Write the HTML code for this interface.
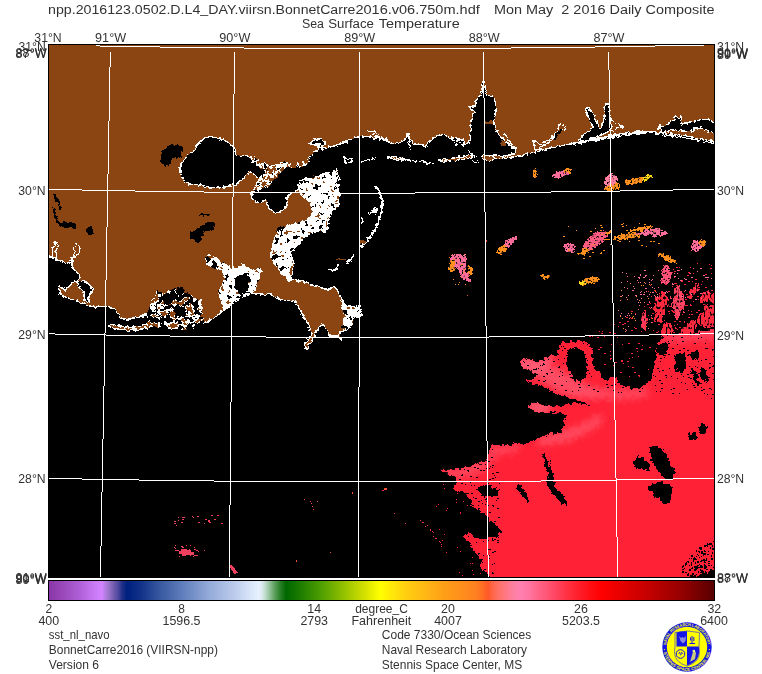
<!DOCTYPE html>
<html><head><meta charset="utf-8"><title>SST</title>
<style>html,body{margin:0;padding:0;background:#fff;}body{width:762px;height:674px;overflow:hidden;position:relative;font-family:"Liberation Sans",sans-serif;}</style></head>
<body>
<svg width="762" height="674" viewBox="0 0 762 674" style="position:absolute;left:0;top:0;display:block">
<defs>
<clipPath id="mapclip"><rect x="49" y="45" width="665" height="532"/></clipPath>
<linearGradient id="cb" gradientUnits="userSpaceOnUse" x1="49" y1="0" x2="714" y2="0">
<stop offset="0.0000" stop-color="#8A36A8"/>
<stop offset="0.0195" stop-color="#9848B8"/>
<stop offset="0.0466" stop-color="#B060D8"/>
<stop offset="0.0707" stop-color="#CC7CF8"/>
<stop offset="0.0797" stop-color="#D484FF"/>
<stop offset="0.0827" stop-color="#C080EC"/>
<stop offset="0.0887" stop-color="#A078D0"/>
<stop offset="0.0962" stop-color="#7860B0"/>
<stop offset="0.1038" stop-color="#5048A0"/>
<stop offset="0.1098" stop-color="#203088"/>
<stop offset="0.1173" stop-color="#002080"/>
<stop offset="0.1368" stop-color="#103088"/>
<stop offset="0.1669" stop-color="#3858A0"/>
<stop offset="0.2045" stop-color="#6482BE"/>
<stop offset="0.2421" stop-color="#96ACDA"/>
<stop offset="0.2797" stop-color="#BCCCEC"/>
<stop offset="0.3053" stop-color="#DCE8FA"/>
<stop offset="0.3158" stop-color="#E8F2FF"/>
<stop offset="0.3218" stop-color="#D4E6E4"/>
<stop offset="0.3293" stop-color="#A4CCAC"/>
<stop offset="0.3383" stop-color="#64A464"/>
<stop offset="0.3474" stop-color="#2C8028"/>
<stop offset="0.3564" stop-color="#006800"/>
<stop offset="0.3699" stop-color="#107400"/>
<stop offset="0.3925" stop-color="#348C00"/>
<stop offset="0.4105" stop-color="#50A000"/>
<stop offset="0.4316" stop-color="#7CB400"/>
<stop offset="0.4496" stop-color="#A0C800"/>
<stop offset="0.4647" stop-color="#C0D600"/>
<stop offset="0.4767" stop-color="#D8E200"/>
<stop offset="0.4887" stop-color="#F0F400"/>
<stop offset="0.4977" stop-color="#FFFF00"/>
<stop offset="0.5158" stop-color="#FFE808"/>
<stop offset="0.5353" stop-color="#FFD010"/>
<stop offset="0.5654" stop-color="#FFB814"/>
<stop offset="0.5925" stop-color="#FFA018"/>
<stop offset="0.6180" stop-color="#FF901C"/>
<stop offset="0.6421" stop-color="#FF8020"/>
<stop offset="0.6526" stop-color="#FF6C24"/>
<stop offset="0.6602" stop-color="#FF5828"/>
<stop offset="0.6662" stop-color="#FF6444"/>
<stop offset="0.6737" stop-color="#FF7060"/>
<stop offset="0.6872" stop-color="#FF7884"/>
<stop offset="0.6992" stop-color="#FF80A4"/>
<stop offset="0.7098" stop-color="#FF80B0"/>
<stop offset="0.7233" stop-color="#FF74A0"/>
<stop offset="0.7353" stop-color="#FF6488"/>
<stop offset="0.7474" stop-color="#FF5878"/>
<stop offset="0.7624" stop-color="#FF4460"/>
<stop offset="0.7805" stop-color="#FF3040"/>
<stop offset="0.7985" stop-color="#FF1C28"/>
<stop offset="0.8165" stop-color="#FF0C10"/>
<stop offset="0.8316" stop-color="#FF0000"/>
<stop offset="0.8511" stop-color="#EE0000"/>
<stop offset="0.8737" stop-color="#DA0000"/>
<stop offset="0.8977" stop-color="#C80000"/>
<stop offset="0.9218" stop-color="#B00000"/>
<stop offset="0.9489" stop-color="#980000"/>
<stop offset="0.9744" stop-color="#780000"/>
<stop offset="1.0000" stop-color="#580000"/>
</linearGradient>
</defs>
<rect width="762" height="674" fill="#fff"/>
<rect x="48" y="44" width="667" height="534" fill="#000"/>
<g clip-path="url(#mapclip)" shape-rendering="crispEdges">
<rect x="49" y="45" width="665" height="532" fill="#8B4513"/>
<filter id="rag2" color-interpolation-filters="sRGB" filterUnits="userSpaceOnUse" x="30" y="30" width="710" height="580"><feTurbulence type="fractalNoise" baseFrequency="0.3" numOctaves="2" seed="9" result="n"/><feDisplacementMap in="SourceGraphic" in2="n" scale="4.5" xChannelSelector="R" yChannelSelector="G"/></filter>
<g filter="url(#rag2)">
<rect x="30" y="30" width="710" height="580" fill="#8B4513"/>
<path d="M720 143 L714 141.7 L702 139 L690 136.7 L680 135 L670 133.8 L660 132.5 L650 131.8 L636 131.8 L626 133 L616 134.7 L606 136.7 L596 138.7 L586 140.7 L576 142.7 L566 144.7 L556 146.7 L546 149 L536 151.7 L526 154.2 L516 156.7 L506 158 L496 158.7 L484 160 L484 157.5 L489 157.5 L493.6 154.8 L502.5 156 L511.4 154.6 L515.8 150.9 L510 145.7 L504 139.7 L499.5 135.3 L495.5 129.3 L493.5 120.4 L496 111.5 L495.5 104 L494.6 98 L492 96 L486.5 95.3 L485 88 L484.5 80.5 L482.5 80.5 L482.5 88 L481.5 95 L479.3 96 L477 99.7 L475.3 106 L469 106.4 L474.3 111.5 L472 119 L470.6 129.3 L470.6 139.7 L468 143.5 L464 144.7 L463 140.5 L462 139.7 L456 138.7 L450 137.7 L446 135.5 L442 134.3 L438 135.5 L434 137.7 L430 141.7 L427 145 L424 146.7 L420 143.7 L414 144.7 L412 142 L410 139.7 L408 133.7 L406 138.7 L403 141 L400 142.7 L392 143.7 L388 141.5 L384 139.7 L374 137.7 L364 136.3 L358 137 L352 138.7 L346 142 L334 146 L328 147.5 L322 149 L322 145 L326 143 L320 139 L314 140 L309 144 L319 144 L319 148 L314 154 L307 158 L305 162 L304 165 L296 165 L290 164 L284 163 L276 166 L270 167 L266 167 L266 171 L262 176 L258 182 L254 189.8 L252 193.8 L251 198 L254 200 L257 203 L259 203.8 L263 201 L266 200 L267 203 L270 209.8 L274 212 L278 212.8 L283 211 L286 207.8 L287 197.8 L290 194 L294 191.8 L298 190 L306 184 L316 180 L324 175 L330 172 L337 170 L339 178 L338 186 L339 196 L338 206 L334 210 L330 214 L328 224 L326 232 L320 231 L316 230 L312 230 L308 232 L304 234 L300 240 L296 246 L291 250 L288 254 L294 262 L293 268 L292 274 L288 278 L296 280 L304 282 L316 286 L328 290 L335 287 L338 291 L340 296 L345 304 L352 307 L360 306 L361 316 L354 316 L352 326 L346 330 L340 332 L341 340 L338 336 L329 336 L328 330 L322 324 L316 332 L314 338 L306 349 L305 344 L312 334 L308 324 L302 314 L299 308 L295.7 302 L281.8 300 L271.8 295 L262 294 L251.8 293 L246 295 L241.9 297 L236 300.5 L231.9 304 L221.9 312 L212 319 L202 324 L192 327 L186 328.5 L180 329 L172 328 L164 324 L158 324 L152 326 L146 328 L140 329.5 L128 330.5 L118 329 L108 326 L110 324.5 L120 326 L128 327.5 L138 326.5 L146 324.5 L150 321 L147 314 L141 317 L133 318 L124.4 320 L118.4 315 L114 308 L105 306 L96 307.4 L90 306 L82 303 L74 300 L67 297.5 L60 295 L59 286 L62 288 L66 290 L69 286.5 L72 283 L78 281 L80 276 L76 272 L72 266 L72 258 L68 264 L60 261 L54 258.5 L49 256 L40 256 L40 600 L730 600 Z" fill="#000" stroke="#fff" stroke-width="1.4" stroke-linejoin="round"/>
<path d="M180 168 L182 162 L190 154 L194 150 L200 142 L208 136.4 L216 137.6 L226 141 L234 147 L236 155 L248 156 L252 160 L260 162 L265 167 L266 172 L260 178 L254 176 L251 171 L248 173 L242 180 L234 185 L226 187 L210 188 L200 185 L188 184 L182 178 L180 172 Z" fill="#000" stroke="#fff" stroke-width="1.3" stroke-linejoin="round"/>
<path d="M162 152 L166 147 L170 145 L180 145 L183 150 L181 157 L172 158 L170 166 L164 166 L161 162 Z" fill="#000"/>
<path d="M190 235 L198 228 L206 223 L212 221 L215 225 L214 230 L204 232 L201 240 L197 242 L191 238 Z" fill="#000"/>
<path d="M199 215h12v1h-12z M201 213h2v2h-2z" fill="#000"/>
<path d="M53 192 L56 196 L60 202 L61 210 L59 210 L58 204 L54 197 Z" fill="#000"/>
<path d="M52 206 L55 210 L58 220 L62 222 L70 222 L76 224 L76 229 L70 228 L62 227 L57 224 L54 215 Z" fill="#000"/>
<path d="M85.5 231 L90 226 L92.5 226 L92.5 235 L89 235 Z" fill="#000"/>
<path d="M189.6 232 h3 v6 h-3z" fill="#000"/>
<path d="M78 282 L84 281 L90 286 L94 291 L89 294 L89 302 L84 300 L84 292 L79 287 Z" fill="#000" stroke="#fff" stroke-width="1.3" stroke-linejoin="round"/>
<path d="M52 258 L53 247 L56 242 L58 246 L56 252 L57 258 Z M74 254 L75 246 L77 243 L80 248 L79 253 L75 258 Z" fill="#8B4513" stroke="#fff" stroke-width="1.3" stroke-linejoin="round"/>
<path d="M578 141 L580 138 L586 133 L592 129 L593 126 L590 121 L587 114 L585 110 L586 108 L589 108 L592 112 L595 118 L598 126 L600 128 L603 123 L605 116 L604 108 L605 104 L608 104 L610 110 L610 120 L612 127 L609 131 L604 134 L598 136 L590 139 L584 142 Z" fill="#000" stroke="#fff" stroke-width="1.3" stroke-linejoin="round"/>
<path d="M610 120 L617 124 L624 127 L618 128 L612 131" fill="none" stroke="#fff" stroke-width="1.3" stroke-linejoin="round"/>
<path d="M660 128 L664 126 L668 124 L672 121 L674 120 L675 115 L678 119 L681 116 L682 124 L690 122 L700 120 L708 119 L714 123 L720 124 L720 134 L714 133 L706 130 L702 128 L694 128 L692 132 L682 131 L672 130 L666 132 L662 133 Z" fill="#000" stroke="#fff" stroke-width="1.3" stroke-linejoin="round"/>
<path d="M658 130 L660 124 L662 128" fill="none" stroke="#fff" stroke-width="1.3" stroke-linejoin="round"/>
<path d="M533 141 L534 147 L538 150 L543 146 L548 143 L552 140 L556 134 L560 131 L565 129 L566 126 L562 125 L557 126 L559 129 L555 133 L552 138 L548 141 L543 143 L539 144 L536 141 Z" fill="#8B4513" stroke="#fff" stroke-width="1.3" stroke-linejoin="round"/>
<path d="M553 139 L556 133 L560 129 L563 128 L561 132 L557 137 L555 141 Z" fill="#000"/>
<path d="M572 144.5 L586 142 L600 139.5 L616 136.5 L632 133.8 L648 132.5 L660 133" fill="none" stroke="#fff" stroke-width="1.5"/>
<path d="M600 141 L616 138 L632 135.5 L648 134.2" fill="none" stroke="#000" stroke-width="1"/>
<path d="M662 135 L680 137 L700 140.5 L716 144" fill="none" stroke="#fff" stroke-width="1"/>
<path d="M501 140 h5 v6 h-5z" fill="#8B4513"/>
<path d="M504 133 L508 140 L516 150 L510 157" fill="none" stroke="#fff" stroke-width="1.3" stroke-linejoin="round"/>
<path d="M485 121 h8 v3 h-8z" fill="#8B4513"/>
<path d="M367.5 131 L372 130.5 L376 132.5 L379 135.5 L383 138 L387.5 139.5 M371 133.5 L375 135.5 L379 138.5" fill="none" stroke="#fff" stroke-width="1.3" stroke-linejoin="round"/>
<path d="M408.5 134 L409 141 L410.5 147 L412 150 M452 139 L455 142 L458 140 L461 144 L464 146 M455 146 L458 143" fill="none" stroke="#fff" stroke-width="1.3" stroke-linejoin="round"/>
<path d="M344 158 L348 159 L352 158 L351 162 L346 163 Z M361 162 L366 161 L370 160 M372 159 L376 158 M387 157 L392 158 L400 159 L408 160 L416 161 M420 161 L426 163 L434 163.5 M468 152 L472 154 L476 157 M472 161 L479 163" fill="none" stroke="#fff" stroke-width="1.5"/>
<path d="M438 160 L446 159 L456 157.5 L466 156 L472 155 L472 157 L462 159.5 L450 161 L440 161.5 Z" fill="#8B4513" stroke="#fff" stroke-width="1.3" stroke-linejoin="round"/>
<path d="M388 157 L394 156.5 L402 158 L402 160 L394 159 Z" fill="#8B4513" stroke="#fff" stroke-width="1.3" stroke-linejoin="round"/>
<path d="M482 155 L490 156 L496 158 L490 161 L484 160 Z" fill="#8B4513" stroke="#fff" stroke-width="1.3" stroke-linejoin="round"/>
<path d="M375 186 L379 191 L381.5 198 L382 206 L381 213 L379 220 L376 227 L373 233 L369 238 L365 243 L360 247.5" fill="none" stroke="#fff" stroke-width="2"/>
<path d="M368 214 L373 209 L377 208 L377 215 L372 213 Z M361 217 h2 v7 h-2z" fill="#fff"/>
<path d="M346 262.5 L350 258.5 L354 255 L354.5 256.5 L351 260.5 L347.5 263.5 Z M360 247 L364 243 L368 240 L367 243.5 L362 247.5 Z" fill="#fff"/>
<path d="M336 259 h10 v1 h-10z M360 241 h5 v3 h-5z M359 240 h4 v2 h-4z" fill="#8B4513"/>
<path d="M328 269.5 L332 271 L336 269.5 L338.5 265" fill="none" stroke="#fff" stroke-width="1.6"/>
<filter id="marshA" filterUnits="userSpaceOnUse" x="49" y="45" width="665" height="532" color-interpolation-filters="sRGB"><feTurbulence type="fractalNoise" baseFrequency="0.2" numOctaves="2" seed="5" result="n"/><feColorMatrix in="n" type="matrix" values="1 0 0 0 0  1 0 0 0 0  1 0 0 0 0  0 0 0 0 1" result="g"/><feComponentTransfer in="g" result="c"><feFuncR type="discrete" tableValues="0.545 0.545 0.545 0.545 0.545 0.545 0.545 0.545 0.545 0.545 0.545 0.545 0.545 0.545 0.545 0.545 0.545 0.545 0.545 0.545 0.545 0.545 0.545 0.545 1.000 1.000 1.000 1.000 1.000 1.000 1.000 1.000 1.000 1.000 1.000 1.000 1.000 1.000 1.000 1.000 1.000 1.000 1.000 1.000 1.000 1.000 1.000 1.000 1.000 1.000 1.000 1.000 0.000 0.000 0.000 0.000 0.000 0.000 0.000 0.000 0.000 0.000 0.000 0.000 0.000 0.000 0.000 0.000 0.000 0.000 0.000 0.000 0.000 0.000 0.000 0.000 0.000 0.000 0.000 0.000"/><feFuncG type="discrete" tableValues="0.271 0.271 0.271 0.271 0.271 0.271 0.271 0.271 0.271 0.271 0.271 0.271 0.271 0.271 0.271 0.271 0.271 0.271 0.271 0.271 0.271 0.271 0.271 0.271 1.000 1.000 1.000 1.000 1.000 1.000 1.000 1.000 1.000 1.000 1.000 1.000 1.000 1.000 1.000 1.000 1.000 1.000 1.000 1.000 1.000 1.000 1.000 1.000 1.000 1.000 1.000 1.000 0.000 0.000 0.000 0.000 0.000 0.000 0.000 0.000 0.000 0.000 0.000 0.000 0.000 0.000 0.000 0.000 0.000 0.000 0.000 0.000 0.000 0.000 0.000 0.000 0.000 0.000 0.000 0.000"/><feFuncB type="discrete" tableValues="0.075 0.075 0.075 0.075 0.075 0.075 0.075 0.075 0.075 0.075 0.075 0.075 0.075 0.075 0.075 0.075 0.075 0.075 0.075 0.075 0.075 0.075 0.075 0.075 1.000 1.000 1.000 1.000 1.000 1.000 1.000 1.000 1.000 1.000 1.000 1.000 1.000 1.000 1.000 1.000 1.000 1.000 1.000 1.000 1.000 1.000 1.000 1.000 1.000 1.000 1.000 1.000 0.000 0.000 0.000 0.000 0.000 0.000 0.000 0.000 0.000 0.000 0.000 0.000 0.000 0.000 0.000 0.000 0.000 0.000 0.000 0.000 0.000 0.000 0.000 0.000 0.000 0.000 0.000 0.000"/></feComponentTransfer><feComposite in="c" in2="SourceGraphic" operator="in"/></filter>
<filter id="marshC" filterUnits="userSpaceOnUse" x="49" y="45" width="665" height="532" color-interpolation-filters="sRGB"><feTurbulence type="fractalNoise" baseFrequency="0.22" numOctaves="2" seed="17" result="n"/><feColorMatrix in="n" type="matrix" values="1 0 0 0 0  1 0 0 0 0  1 0 0 0 0  0 0 0 0 1" result="g"/><feComponentTransfer in="g" result="c"><feFuncR type="discrete" tableValues="0.545 0.545 0.545 0.545 0.545 0.545 0.545 0.545 0.545 0.545 0.545 0.545 0.545 0.545 0.545 0.545 0.545 0.545 0.545 0.545 0.545 0.545 0.545 0.545 0.545 0.545 0.545 0.545 0.545 0.545 0.545 0.545 0.545 0.545 0.545 0.545 0.545 0.545 0.545 0.545 1.000 1.000 1.000 1.000 1.000 1.000 1.000 1.000 1.000 1.000 1.000 1.000 1.000 1.000 0.000 0.000 0.000 0.000 0.000 0.000 0.000 0.000 0.000 0.000 0.000 0.000 0.000 0.000 0.000 0.000 0.000 0.000 0.000 0.000 0.000 0.000 0.000 0.000 0.000 0.000"/><feFuncG type="discrete" tableValues="0.271 0.271 0.271 0.271 0.271 0.271 0.271 0.271 0.271 0.271 0.271 0.271 0.271 0.271 0.271 0.271 0.271 0.271 0.271 0.271 0.271 0.271 0.271 0.271 0.271 0.271 0.271 0.271 0.271 0.271 0.271 0.271 0.271 0.271 0.271 0.271 0.271 0.271 0.271 0.271 1.000 1.000 1.000 1.000 1.000 1.000 1.000 1.000 1.000 1.000 1.000 1.000 1.000 1.000 0.000 0.000 0.000 0.000 0.000 0.000 0.000 0.000 0.000 0.000 0.000 0.000 0.000 0.000 0.000 0.000 0.000 0.000 0.000 0.000 0.000 0.000 0.000 0.000 0.000 0.000"/><feFuncB type="discrete" tableValues="0.075 0.075 0.075 0.075 0.075 0.075 0.075 0.075 0.075 0.075 0.075 0.075 0.075 0.075 0.075 0.075 0.075 0.075 0.075 0.075 0.075 0.075 0.075 0.075 0.075 0.075 0.075 0.075 0.075 0.075 0.075 0.075 0.075 0.075 0.075 0.075 0.075 0.075 0.075 0.075 1.000 1.000 1.000 1.000 1.000 1.000 1.000 1.000 1.000 1.000 1.000 1.000 1.000 1.000 0.000 0.000 0.000 0.000 0.000 0.000 0.000 0.000 0.000 0.000 0.000 0.000 0.000 0.000 0.000 0.000 0.000 0.000 0.000 0.000 0.000 0.000 0.000 0.000 0.000 0.000"/></feComponentTransfer><feComposite in="c" in2="SourceGraphic" operator="in"/></filter>
<filter id="marshB" filterUnits="userSpaceOnUse" x="49" y="45" width="665" height="532" color-interpolation-filters="sRGB"><feTurbulence type="fractalNoise" baseFrequency="0.17" numOctaves="2" seed="11" result="n"/><feColorMatrix in="n" type="matrix" values="1 0 0 0 0  1 0 0 0 0  1 0 0 0 0  0 0 0 0 1" result="g"/><feComponentTransfer in="g" result="c"><feFuncR type="discrete" tableValues="0.545 0.545 0.545 0.545 0.545 0.545 0.545 0.545 0.545 0.545 0.545 0.545 0.545 0.545 0.545 0.545 0.545 0.545 0.545 0.545 0.545 0.545 0.545 0.545 0.545 0.545 0.545 0.545 0.545 0.545 0.545 1.000 1.000 1.000 1.000 1.000 1.000 1.000 1.000 1.000 1.000 1.000 0.000 0.000 0.000 0.000 0.000 0.000 0.000 0.000 0.000 0.000 0.000 0.000 0.000 0.000 0.000 0.000 0.000 0.000 0.000 0.000 0.000 0.000 0.000 0.000 0.000 0.000 0.000 0.000 0.000 0.000 0.000 0.000 0.000 0.000 0.000 0.000 0.000 0.000"/><feFuncG type="discrete" tableValues="0.271 0.271 0.271 0.271 0.271 0.271 0.271 0.271 0.271 0.271 0.271 0.271 0.271 0.271 0.271 0.271 0.271 0.271 0.271 0.271 0.271 0.271 0.271 0.271 0.271 0.271 0.271 0.271 0.271 0.271 0.271 1.000 1.000 1.000 1.000 1.000 1.000 1.000 1.000 1.000 1.000 1.000 0.000 0.000 0.000 0.000 0.000 0.000 0.000 0.000 0.000 0.000 0.000 0.000 0.000 0.000 0.000 0.000 0.000 0.000 0.000 0.000 0.000 0.000 0.000 0.000 0.000 0.000 0.000 0.000 0.000 0.000 0.000 0.000 0.000 0.000 0.000 0.000 0.000 0.000"/><feFuncB type="discrete" tableValues="0.075 0.075 0.075 0.075 0.075 0.075 0.075 0.075 0.075 0.075 0.075 0.075 0.075 0.075 0.075 0.075 0.075 0.075 0.075 0.075 0.075 0.075 0.075 0.075 0.075 0.075 0.075 0.075 0.075 0.075 0.075 1.000 1.000 1.000 1.000 1.000 1.000 1.000 1.000 1.000 1.000 1.000 0.000 0.000 0.000 0.000 0.000 0.000 0.000 0.000 0.000 0.000 0.000 0.000 0.000 0.000 0.000 0.000 0.000 0.000 0.000 0.000 0.000 0.000 0.000 0.000 0.000 0.000 0.000 0.000 0.000 0.000 0.000 0.000 0.000 0.000 0.000 0.000 0.000 0.000"/></feComponentTransfer><feComposite in="c" in2="SourceGraphic" operator="in"/></filter>
<g filter="url(#marshA)"><path d="M297 181 L306 178 L316 176 L326 172 L337 170 L339 178 L338 190 L339 200 L338 208 L332 212 L327 218 L326 231 L318 232 L312 233 L306 237 L300 243 L296 247 L292 253 L293 260 L291 268 L289 273 L293 278 L293 282 L287 280 L281 273 L277 268 L272 261 L270 256 L271 248 L273 241 L276 233 L279 228 L286 225.5 L293 224 L300 222 L306 220 L311 215 L312 212 L310 204 L305 199 L300 195 L298 188 Z M204.5 260 L208 254 L216 257.5 L226 265 L236 267.5 L243 264 L250.6 270 L260.6 267.5 L262 272 L258 282 L255.6 290 L250 294 L244 297 L238 300 L231 305 L224 309 L220.7 302 L218 290 L225.7 277.4 L220.7 270 L213 267.4 L206 264 Z M340 300 L346 304 L352 307 L360 306 L362 312 L360 318 L354 318 L352 326 L346 331 L342 326 L344 316 L342 308 Z M190 326 L194 318 L196 308 L198 300 L202 300 L202 312 L200 322 L194 328 Z" fill="#fff"/></g>
<g filter="url(#marshC)"><path d="M254 189 L257 184 L261 179 L266 172 L272 167 L280 164 L288 164 L284 170 L279 176 L273 181 L269 187 L262 188 L257 192 Z M250 156 L256 158 L262 161 L268 165 L276 164 L284 161 L292 163 L300 163 L306 157 L310 158 L306 166 L296 168 L284 167 L276 170 L266 170 L258 166 L250 160 Z" fill="#fff"/></g>
<g filter="url(#marshB)"><path d="M147 314 L151.4 301.4 L157.3 291 L164.8 294 L175.3 286.5 L179.8 291 L188.8 294 L199 300 L200.7 313.4 L204 322 L202 326 L192 329 L183 330 L171 329 L160 327 L150 326 L150 321 Z" fill="#fff"/></g>
<path d="M234 280 L238 275 L246 274 L250 278 L249 286 L246 292 L240 294 L236 290 Z" fill="#000"/>
<path d="M163 300 L168 296 L174 298 L172 304 L166 305 Z M176 290 L181 287 L185 291 L181 296 L177 295 Z M174 310 L180 306 L186 309 L184 316 L177 316 Z M205 258 L208 256 L211 259 L208 262 Z M214 262 L218 266 L216 270 L212 268 Z" fill="#000"/>
<path d="M277 229 a2 2 0 1 0 4 0 a2 2 0 1 0 -4 0" fill="#000"/>
</g>
<clipPath id="redclip"><path d="M518 362.3 L522 360 L526.5 358.4 L532 360 L537 361.4 L542 359.5 L547.4 357 L553 356 L557.9 355.4 L558.5 350 L559.4 345 L563 343 L566.9 342 L571 341 L574.3 340.5 L580.3 341 L586 341.5 L590 344 L592 352 L591.5 362 L595 369 L602 372 L609 374 L614 378 L620 384 L626 387 L632 388 L638 388 L644 386 L649 382 L652 376 L654 368 L656 358 L658 348 L660 340 L664 336 L672 335 L684 334 L696 332 L706 330 L714 329 L720 329 L720 590 L489 590 L489 577 L486 572 L479 567 L482 561 L478 556 L475 552 L472 547 L469 543 L463 536 L467 533 L471 531 L473 535 L475 538 L486 538 L493 537.5 L498 536 L501 531 L496 526 L491 522 L486 515 L480 512 L475 509 L472 504 L470 499 L466 495 L463 493 L452 489 L455 486 L458 482 L454 475 L447 473 L438 468.6 L447 471 L456.6 469.2 L466 467 L475 464.5 L481 462 L486 460 L487.4 453.7 L489 449 L491 445.7 L501 445 L511 444.6 L519 444 L527 443.4 L532 441 L536.6 439 L548 434.3 L553 433.5 L558 432 L562 430 L564 423 L566 418 L567 414 L555 413 L545 412.3 L537 411.5 L529.4 408.5 L528 404.8 L534 402.6 L541 404.5 L547.4 406 L555 405.5 L562.4 404.8 L570 404 L577.3 403.3 L589.3 404.8 L581.8 401.8 L569.8 398 L562 395.5 L554.9 392.8 L547 389 L540 385.4 L533 383.5 L527 381.5 L532 378.5 L537.5 375.5 L531 372 L525 369 Z"/></clipPath>
<filter id="blur3" x="-20%" y="-20%" width="140%" height="140%"><feGaussianBlur stdDeviation="3.5"/></filter>
<filter id="rag" color-interpolation-filters="sRGB" x="-5%" y="-5%" width="110%" height="110%"><feTurbulence type="fractalNoise" baseFrequency="0.22" numOctaves="2" seed="4" result="n"/><feDisplacementMap in="SourceGraphic" in2="n" scale="7" xChannelSelector="R" yChannelSelector="G"/></filter>
<g filter="url(#rag)">
<path d="M518 362.3 L522 360 L526.5 358.4 L532 360 L537 361.4 L542 359.5 L547.4 357 L553 356 L557.9 355.4 L558.5 350 L559.4 345 L563 343 L566.9 342 L571 341 L574.3 340.5 L580.3 341 L586 341.5 L590 344 L592 352 L591.5 362 L595 369 L602 372 L609 374 L614 378 L620 384 L626 387 L632 388 L638 388 L644 386 L649 382 L652 376 L654 368 L656 358 L658 348 L660 340 L664 336 L672 335 L684 334 L696 332 L706 330 L714 329 L720 329 L720 590 L489 590 L489 577 L486 572 L479 567 L482 561 L478 556 L475 552 L472 547 L469 543 L463 536 L467 533 L471 531 L473 535 L475 538 L486 538 L493 537.5 L498 536 L501 531 L496 526 L491 522 L486 515 L480 512 L475 509 L472 504 L470 499 L466 495 L463 493 L452 489 L455 486 L458 482 L454 475 L447 473 L438 468.6 L447 471 L456.6 469.2 L466 467 L475 464.5 L481 462 L486 460 L487.4 453.7 L489 449 L491 445.7 L501 445 L511 444.6 L519 444 L527 443.4 L532 441 L536.6 439 L548 434.3 L553 433.5 L558 432 L562 430 L564 423 L566 418 L567 414 L555 413 L545 412.3 L537 411.5 L529.4 408.5 L528 404.8 L534 402.6 L541 404.5 L547.4 406 L555 405.5 L562.4 404.8 L570 404 L577.3 403.3 L589.3 404.8 L581.8 401.8 L569.8 398 L562 395.5 L554.9 392.8 L547 389 L540 385.4 L533 383.5 L527 381.5 L532 378.5 L537.5 375.5 L531 372 L525 369 Z" fill="#FF2236"/>
<g clip-path="url(#redclip)" opacity="0.62"><g filter="url(#blur3)">
<path d="M512 362 L526 356 L540 358 L552 354 L552 364 L544 372 L536 378 L526 374 Z" fill="#FF7C98"/>
<path d="M522 405 L534 401 L550 403 L552 410 L540 414 L528 411 Z" fill="#FF7C98"/>
<path d="M540 372 L556 366 L572 376 L590 386 L604 390 L622 391 L646 388 L648 396 L620 399 L600 398 L584 399 L570 396 L552 388 L540 380 Z" fill="#FF6880"/>
<path d="M540 436 L558 431 L572 428 L590 420 L600 414 L604 422 L588 432 L572 440 L556 444 L536 446 Z" fill="#FF6478"/>
<path d="M436 470 L458 468 L486 458 L492 446 L520 444 L520 450 L496 456 L486 470 L466 478 L450 480 Z" fill="#FF5870"/>
<path d="M660 300 L700 290 L716 300 L716 340 L680 342 L660 340 Z" fill="#FF5070"/>
</g></g>
<path d="M541 454 L545 453 L549 462 L553 476 L555 484 L551 483 L547 470 Z" fill="#000"/>
<path d="M546 480 L550 479 L556 488 L565 498 L567 505 L562 504 L553 494 Z" fill="#000"/>
<path d="M478 488 L484 485 L492 486 L499 490 L497 496 L488 497 L481 494 Z" fill="#000"/>
<path d="M633 462 L637 457 L642 458 L646 462 L650 466 L648 472 L643 470 L638 468 L634 467 Z" fill="#000"/>
<path d="M649 450 L655 446 L662 448 L666 456 L670 462 L674 470 L673 478 L666 479 L660 474 L656 468 L652 462 L650 456 Z" fill="#000"/>
<path d="M648 488 L654 483 L662 481 L670 484 L672 492 L670 501 L664 503 L658 498 L652 495 Z" fill="#000"/>
<path d="M689 434 L692 432 L697 434 L696 439 L691 440 Z" fill="#000"/>
<path d="M698 428 L702 424 L707 425 L706 431 L701 434 Z" fill="#000"/>
<path d="M674 356 L680 352 L686 356 L686 368 L682 374 L676 372 Z" fill="#000"/>
<path d="M567 351 L572 348 L580 349 L585 355 L587 366 L586 378 L579 382 L572 377 L567 366 Z" fill="#000"/>
<path d="M601 372 L608 371 L613 377 L607 380 L602 377 Z" fill="#000"/>
<path d="M692 580 L696 575 L704 573 L716 571 L716 582 L692 582 Z" fill="#000"/>
<path d="M516 488 L518 484 L522 486 L530 500 L529 504 L524 498 Z" fill="#000"/>
<path d="M690 352 L696 350 L700 354 L697 360 L691 358 Z" fill="#000"/>
<path d="M658 346 L663 343 L669 345 L668 352 L663 355 L658 353 Z" fill="#000"/>
<path d="M690 370 L693 368 L697 376 L700 384 L697 386 L693 378 Z" fill="#000"/>
<path d="M700 368 L703 367 L706 374 L708 382 L705 383 L702 376 Z" fill="#000"/>
</g>
<filter id="speck2" filterUnits="userSpaceOnUse" x="600" y="250" width="120" height="100" color-interpolation-filters="sRGB"><feTurbulence type="fractalNoise" baseFrequency="0.2 0.12" numOctaves="2" seed="33" result="n1"/><feDisplacementMap in="SourceGraphic" in2="n1" scale="9" xChannelSelector="R" yChannelSelector="G" result="d"/><feTurbulence type="fractalNoise" baseFrequency="0.5 0.3" numOctaves="1" seed="14" result="n2"/><feColorMatrix in="n2" type="matrix" values="0 0 0 0 1  0 0 0 0 1  0 0 0 0 1  9 0 0 0 -3.1" result="m"/><feComposite in="d" in2="m" operator="in"/></filter>
<g filter="url(#speck2)">
<path d="M656 300 L660 293 L667 291 L669 298 L666 306 L665 314 L661 323 L655 319 L653 308 Z" fill="#FF2A40"/>
<path d="M672 296 L676 287 L681 286 L683 294 L685 304 L683 312 L678 318 L673 315 L670 304 Z" fill="#FF4464"/>
<path d="M687 297 L691 288 L698 282 L700 288 L695 295 L690 299 Z" fill="#FF2A40"/>
<path d="M700 296 L706 291 L718 291 L718 303 L706 303 L701 301 Z" fill="#FF2A40"/>
<path d="M697 316 L704 307 L718 304 L718 330 L706 328 L699 325 Z" fill="#FF2A40"/>
<path d="M682 331 L688 322 L696 321 L695 330 L690 337 L683 337 Z" fill="#FF2A40"/>
<path d="M661 326 L668 321 L673 328 L671 337 L661 338 Z" fill="#FF2A40"/>
<path d="M640 318 L644 312 L648 318 L646 328 L641 327 Z" fill="#FF3A58"/>
</g>
<path d="M602 349h2v1h-2zM544 376h1v1h-1zM631 383h1v1h-1zM628 337h1v1h-1zM681 337h2v1h-2zM662 347h2v1h-2zM550 369h1v1h-1zM668 354h2v1h-2zM660 338h1v1h-1zM629 370h2v1h-2zM612 368h1v1h-1zM698 361h1v1h-1zM607 387h2v1h-2zM627 351h2v1h-2zM645 383h1v1h-1zM662 370h2v1h-2zM672 393h2v1h-2zM543 364h2v1h-2zM535 369h2v1h-2zM703 379h2v1h-2zM638 375h1v1h-1zM646 337h1v1h-1zM553 361h2v1h-2zM647 340h1v1h-1zM591 347h2v1h-2zM700 383h2v1h-2zM579 349h1v1h-1zM558 359h1v1h-1zM644 353h2v1h-2zM614 370h1v1h-1zM636 380h2v1h-2zM620 343h2v1h-2zM535 354h1v1h-1zM632 350h1v1h-1zM673 336h1v1h-1zM665 349h1v1h-1zM677 333h1v1h-1zM677 378h1v1h-1zM608 376h2v1h-2zM639 391h2v1h-2zM546 373h2v1h-2zM697 350h1v1h-1zM655 376h1v1h-1zM596 341h2v1h-2zM562 375h1v1h-1zM682 358h1v1h-1zM622 359h1v1h-1zM527 365h2v1h-2zM569 374h2v1h-2zM613 340h1v1h-1zM578 390h1v1h-1zM572 391h1v1h-1zM687 374h1v1h-1zM619 355h2v1h-2zM631 372h1v1h-1zM638 381h1v1h-1zM563 346h1v1h-1zM671 389h1v1h-1zM688 374h1v1h-1zM705 343h1v1h-1zM569 357h1v1h-1zM574 367h1v1h-1zM627 346h1v1h-1zM632 353h1v1h-1zM564 348h2v1h-2zM662 337h2v1h-2zM583 354h2v1h-2zM633 371h1v1h-1zM656 391h1v1h-1zM663 355h2v1h-2zM626 345h2v1h-2zM600 339h1v1h-1zM538 357h2v1h-2zM559 376h1v1h-1zM555 389h1v1h-1zM621 392h1v1h-1zM561 385h2v1h-2zM627 355h2v1h-2zM543 376h1v1h-1zM661 388h2v1h-2zM618 372h2v1h-2zM548 359h1v1h-1zM587 364h1v1h-1zM589 346h2v1h-2zM623 349h2v1h-2zM542 365h1v1h-1zM628 339h2v1h-2zM682 341h2v1h-2zM675 358h1v1h-1zM661 383h2v1h-2zM701 360h1v1h-1zM566 355h2v1h-2zM655 356h2v1h-2zM648 352h2v1h-2zM524 362h1v1h-1zM661 354h2v1h-2zM634 343h2v1h-2zM659 380h2v1h-2zM578 373h1v1h-1zM623 374h1v1h-1zM680 362h2v1h-2zM690 378h2v1h-2zM697 367h1v1h-1zM567 350h2v1h-2zM613 372h2v1h-2zM528 369h1v1h-1zM605 378h1v1h-1zM687 355h1v1h-1zM543 363h1v1h-1zM596 368h1v1h-1zM712 349h2v1h-2zM704 393h1v1h-1zM705 348h1v1h-1zM707 394h1v1h-1zM695 359h1v1h-1zM683 376h1v1h-1zM635 336h1v1h-1zM645 363h1v1h-1zM657 341h1v1h-1zM587 360h1v1h-1zM709 388h2v1h-2zM695 366h1v1h-1zM604 362h2v1h-2zM588 342h1v1h-1zM593 389h2v1h-2zM571 369h1v1h-1zM637 339h2v1h-2zM619 356h1v1h-1zM668 341h1v1h-1zM612 346h2v1h-2zM700 376h1v1h-1zM644 380h1v1h-1zM694 387h2v1h-2zM706 348h2v1h-2zM616 370h1v1h-1zM712 373h2v1h-2zM709 367h2v1h-2zM619 339h2v1h-2zM713 365h1v1h-1zM689 366h1v1h-1zM588 385h2v1h-2zM615 384h1v1h-1zM635 347h2v1h-2zM552 351h2v1h-2zM607 366h2v1h-2zM709 363h2v1h-2zM597 391h2v1h-2zM562 350h1v1h-1zM660 358h2v1h-2zM629 347h1v1h-1zM543 352h2v1h-2zM601 360h2v1h-2zM665 355h1v1h-1zM618 382h1v1h-1zM589 373h1v1h-1zM591 376h1v1h-1zM543 364h1v1h-1zM622 387h2v1h-2zM701 390h2v1h-2zM538 380h2v1h-2zM583 343h1v1h-1zM694 343h2v1h-2zM661 335h1v1h-1zM685 368h1v1h-1zM655 385h1v1h-1zM538 368h1v1h-1zM586 358h1v1h-1zM657 368h2v1h-2zM600 361h2v1h-2zM660 361h1v1h-1zM700 369h1v1h-1zM692 383h1v1h-1zM578 384h2v1h-2zM698 373h2v1h-2zM694 380h1v1h-1zM537 356h2v1h-2zM599 354h1v1h-1zM576 363h2v1h-2zM679 393h1v1h-1zM644 383h1v1h-1zM672 348h2v1h-2zM701 337h1v1h-1zM635 370h1v1h-1zM562 372h1v1h-1zM711 389h1v1h-1zM690 378h2v1h-2zM633 351h1v1h-1zM540 365h1v1h-1zM627 345h1v1h-1zM611 369h2v1h-2zM570 377h2v1h-2zM602 376h2v1h-2zM681 382h1v1h-1zM585 354h1v1h-1zM612 364h2v1h-2zM587 370h2v1h-2zM526 359h1v1h-1zM703 389h2v1h-2zM709 368h1v1h-1zM603 370h2v1h-2zM672 340h1v1h-1zM712 350h1v1h-1zM659 371h1v1h-1zM587 340h1v1h-1zM701 387h1v1h-1zM554 383h2v1h-2zM711 398h1v1h-1zM595 365h2v1h-2zM585 363h1v1h-1zM583 353h1v1h-1zM559 366h1v1h-1zM584 361h1v1h-1zM687 389h1v1h-1zM579 387h2v1h-2zM595 359h1v1h-1zM568 354h1v1h-1zM651 352h2v1h-2zM547 374h1v1h-1zM614 373h1v1h-1zM572 362h1v1h-1zM624 377h1v1h-1zM539 356h1v1h-1zM660 391h1v1h-1zM545 380h1v1h-1zM687 350h2v1h-2zM624 366h2v1h-2zM533 369h2v1h-2zM613 355h2v1h-2zM631 350h2v1h-2zM543 381h2v1h-2zM561 346h1v1h-1zM661 348h2v1h-2zM666 377h1v1h-1zM609 366h1v1h-1zM618 392h1v1h-1zM643 370h1v1h-1zM542 350h1v1h-1zM677 355h2v1h-2zM664 357h1v1h-1zM652 350h2v1h-2zM551 349h1v1h-1zM690 371h1v1h-1zM673 388h2v1h-2zM598 361h2v1h-2zM688 377h2v1h-2zM639 360h2v1h-2zM565 390h2v1h-2zM611 385h2v1h-2zM650 335h1v1h-1zM541 370h1v1h-1zM712 394h2v1h-2zM677 344h1v1h-1zM645 366h1v1h-1zM536 374h2v1h-2zM602 365h2v1h-2zM642 356h2v1h-2zM601 377h1v1h-1zM566 381h1v1h-1zM693 371h2v1h-2zM587 344h1v1h-1zM668 343h2v1h-2zM708 377h2v1h-2zM614 348h2v1h-2zM578 352h1v1h-1zM652 362h2v1h-2zM707 330h1v1h-1zM558 367h2v1h-2zM651 376h1v1h-1zM645 359h1v1h-1zM665 375h2v1h-2zM653 375h1v1h-1zM669 368h1v1h-1zM613 390h1v1h-1zM523 361h1v1h-1zM683 348h2v1h-2zM534 374h2v1h-2zM583 351h1v1h-1zM567 360h1v1h-1zM688 355h1v1h-1zM685 383h1v1h-1zM536 368h1v1h-1zM631 389h1v1h-1zM564 358h1v1h-1zM551 372h2v1h-2zM693 385h2v1h-2zM684 357h1v1h-1zM563 363h1v1h-1zM560 371h1v1h-1zM604 360h2v1h-2zM705 359h2v1h-2zM620 339h1v1h-1zM679 350h2v1h-2zM699 333h1v1h-1zM698 338h1v1h-1zM671 376h1v1h-1zM713 379h1v1h-1zM572 356h1v1h-1zM712 366h2v1h-2zM713 356h2v1h-2zM606 384h2v1h-2z" fill="#000"/>
<path d="M474 511h2v1h-2zM497 540h2v1h-2zM478 453h2v1h-2zM486 501h1v1h-1zM470 459h1v1h-1zM483 470h2v1h-2zM483 534h2v1h-2zM470 500h1v1h-1zM462 474h1v1h-1zM496 472h2v1h-2zM477 468h2v1h-2zM475 498h2v1h-2zM492 505h2v1h-2zM486 454h2v1h-2zM485 485h2v1h-2zM480 511h1v1h-1zM493 506h1v1h-1zM471 485h1v1h-1zM498 529h2v1h-2zM467 529h1v1h-1zM498 472h1v1h-1zM461 483h2v1h-2zM479 516h1v1h-1zM492 473h2v1h-2zM477 557h1v1h-1zM490 549h1v1h-1zM479 553h1v1h-1zM495 492h1v1h-1zM479 526h2v1h-2zM478 508h2v1h-2zM482 562h1v1h-1zM485 492h2v1h-2zM468 501h1v1h-1zM485 535h1v1h-1zM486 498h2v1h-2zM492 540h2v1h-2zM465 493h2v1h-2zM498 537h1v1h-1zM469 543h2v1h-2zM478 553h2v1h-2zM471 548h1v1h-1zM481 500h1v1h-1zM482 503h1v1h-1zM494 551h2v1h-2zM482 536h1v1h-1zM497 542h2v1h-2zM495 493h2v1h-2zM498 517h2v1h-2zM493 523h2v1h-2zM483 555h1v1h-1zM476 460h1v1h-1zM492 449h1v1h-1zM468 471h1v1h-1zM474 485h1v1h-1zM486 488h1v1h-1zM496 500h1v1h-1zM494 475h1v1h-1zM478 505h1v1h-1zM483 460h2v1h-2zM494 521h2v1h-2zM479 553h1v1h-1zM492 538h1v1h-1zM491 457h2v1h-2zM484 569h2v1h-2zM492 478h2v1h-2zM494 539h2v1h-2zM485 499h2v1h-2zM473 554h2v1h-2zM470 520h2v1h-2zM477 531h2v1h-2zM464 527h2v1h-2zM489 468h1v1h-1zM486 458h2v1h-2zM482 461h2v1h-2zM492 467h1v1h-1zM494 563h1v1h-1zM494 492h1v1h-1zM475 481h2v1h-2zM471 493h2v1h-2zM479 459h2v1h-2zM488 549h2v1h-2zM490 485h2v1h-2zM487 472h1v1h-1zM465 484h1v1h-1zM495 477h1v1h-1zM459 479h2v1h-2zM469 508h2v1h-2zM499 483h1v1h-1zM492 573h2v1h-2zM476 525h2v1h-2zM483 461h2v1h-2zM488 558h2v1h-2zM461 475h2v1h-2zM492 552h2v1h-2zM480 515h2v1h-2zM469 461h2v1h-2zM489 555h1v1h-1zM476 542h1v1h-1zM472 513h2v1h-2zM470 482h1v1h-1zM474 467h2v1h-2zM471 460h2v1h-2zM497 498h2v1h-2zM486 468h2v1h-2zM489 512h2v1h-2zM484 497h1v1h-1zM464 469h1v1h-1zM475 537h2v1h-2zM483 541h1v1h-1zM492 564h1v1h-1zM474 517h1v1h-1zM488 570h1v1h-1zM489 479h2v1h-2zM473 497h1v1h-1zM487 540h2v1h-2zM459 469h2v1h-2zM488 505h1v1h-1zM468 536h1v1h-1zM484 569h1v1h-1zM464 522h2v1h-2zM482 528h2v1h-2zM476 477h2v1h-2zM476 489h2v1h-2zM481 495h1v1h-1zM466 465h2v1h-2zM480 470h2v1h-2zM492 465h2v1h-2zM472 505h2v1h-2zM492 539h1v1h-1zM466 460h1v1h-1zM487 483h2v1h-2zM478 509h1v1h-1zM469 521h2v1h-2zM484 460h1v1h-1zM470 476h2v1h-2zM475 556h2v1h-2zM467 470h2v1h-2zM478 487h1v1h-1zM463 538h2v1h-2zM478 501h2v1h-2zM485 504h1v1h-1zM490 466h1v1h-1zM489 524h1v1h-1zM485 534h2v1h-2zM492 572h1v1h-1zM467 493h2v1h-2zM485 464h1v1h-1zM497 508h2v1h-2zM488 461h2v1h-2zM491 492h1v1h-1z" fill="#000"/>
<path d="M701 556h1v1h-1zM711 573h1v2h-1zM688 562h1v1h-1zM689 569h2v2h-2zM689 565h1v1h-1zM711 565h1v1h-1zM706 566h1v2h-1zM685 563h2v2h-2zM697 561h2v2h-2zM707 575h1v2h-1zM691 562h1v2h-1zM688 573h1v1h-1zM702 567h1v1h-1zM708 565h2v1h-2zM699 557h1v1h-1zM682 567h1v1h-1zM700 547h2v2h-2zM685 572h2v1h-2zM691 568h1v1h-1zM700 566h2v2h-2zM700 569h1v2h-1zM694 575h2v2h-2zM701 570h2v2h-2zM703 554h1v2h-1zM704 550h1v2h-1zM702 571h2v2h-2zM695 558h1v1h-1zM692 575h1v2h-1zM710 543h2v2h-2zM704 546h1v1h-1zM708 561h2v1h-2zM694 557h1v2h-1zM699 548h2v1h-2zM682 566h1v2h-1zM707 576h1v2h-1zM699 547h2v2h-2zM711 558h2v2h-2zM704 565h2v2h-2zM682 571h2v2h-2zM701 551h2v1h-2zM709 576h2v1h-2zM687 561h2v1h-2zM702 553h2v1h-2zM698 576h2v2h-2zM701 574h2v2h-2zM706 569h2v1h-2zM704 568h1v1h-1zM708 563h2v1h-2zM694 566h2v2h-2zM703 573h1v1h-1zM705 560h2v1h-2zM701 572h1v1h-1zM700 561h2v1h-2zM700 572h1v1h-1zM708 551h1v1h-1zM704 576h1v2h-1zM701 575h1v2h-1zM707 546h1v1h-1zM713 575h2v1h-2zM694 566h1v1h-1zM692 573h1v1h-1zM692 573h2v2h-2zM709 543h1v2h-1zM691 555h2v2h-2zM686 562h1v2h-1zM684 568h1v1h-1zM697 554h1v1h-1zM693 560h1v2h-1zM701 566h2v2h-2zM696 566h2v2h-2zM713 541h1v1h-1zM704 564h1v1h-1zM700 565h2v1h-2zM703 574h2v2h-2zM707 544h1v2h-1zM704 575h1v2h-1zM694 569h2v2h-2zM697 567h1v2h-1zM691 555h1v1h-1zM694 557h1v2h-1zM711 555h1v2h-1zM704 553h2v2h-2zM695 559h2v1h-2zM696 568h1v2h-1zM705 574h1v2h-1zM699 564h1v1h-1zM706 545h1v1h-1zM702 552h1v1h-1zM705 572h2v1h-2zM700 548h2v2h-2zM704 565h2v1h-2zM699 551h1v2h-1zM704 566h1v2h-1zM697 565h2v1h-2zM693 558h1v2h-1zM692 567h1v2h-1zM691 564h1v2h-1zM693 576h1v2h-1zM698 567h2v1h-2zM689 558h1v1h-1zM695 562h1v2h-1zM707 554h2v1h-2zM704 567h2v2h-2zM695 567h1v2h-1zM698 551h1v1h-1zM698 555h1v1h-1zM704 562h2v1h-2zM694 559h1v1h-1zM713 570h1v1h-1zM682 572h2v1h-2zM704 559h1v1h-1zM697 561h1v2h-1zM711 565h1v1h-1zM705 571h1v1h-1zM701 552h1v2h-1zM710 547h1v2h-1zM710 569h2v2h-2zM692 575h1v1h-1zM682 569h2v1h-2zM703 576h2v1h-2zM713 567h2v1h-2zM704 545h2v2h-2zM683 565h1v2h-1zM705 551h1v1h-1zM701 560h2v1h-2zM704 560h1v2h-1zM690 575h2v2h-2zM707 543h1v2h-1zM709 571h1v2h-1zM696 550h1v2h-1zM707 545h1v2h-1zM712 552h1v2h-1zM691 558h1v1h-1zM706 558h1v2h-1zM704 576h1v2h-1zM687 574h2v2h-2zM709 574h1v2h-1zM703 559h2v2h-2zM712 548h2v2h-2zM696 568h1v1h-1zM705 575h2v2h-2zM697 576h2v2h-2zM696 551h1v1h-1zM696 556h1v1h-1zM698 571h1v2h-1zM696 574h1v1h-1zM708 544h2v1h-2zM711 565h1v1h-1zM712 545h1v2h-1zM685 565h1v1h-1z" fill="#000"/>
<path d="M679 267h1v1h-1zM701 300h1v1h-1zM693 273h1v1h-1zM674 283h2v1h-2zM679 327h2v1h-2zM667 276h1v1h-1zM649 307h1v1h-1zM589 336h2v1h-2zM650 285h1v1h-1zM681 280h2v1h-2zM697 263h1v1h-1zM622 324h2v1h-2zM684 322h1v1h-1zM684 291h1v1h-1zM668 329h1v1h-1zM617 337h1v1h-1zM703 304h2v1h-2zM674 302h1v1h-1zM707 304h1v1h-1zM647 320h1v1h-1zM682 296h1v1h-1zM675 334h1v1h-1zM656 292h1v1h-1zM661 305h2v1h-2zM673 332h2v1h-2zM666 323h2v1h-2zM644 306h1v1h-1zM700 313h2v1h-2zM661 283h1v1h-1zM661 301h2v1h-2zM604 336h1v1h-1zM674 321h2v1h-2zM665 284h2v1h-2zM652 292h1v1h-1zM698 287h2v1h-2zM602 335h2v1h-2zM653 330h1v1h-1zM666 303h1v1h-1zM687 305h1v1h-1zM690 267h1v1h-1zM686 294h2v1h-2zM690 304h1v1h-1zM676 316h2v1h-2zM668 291h2v1h-2zM655 308h2v1h-2zM705 274h2v1h-2zM642 313h1v1h-1zM599 331h1v1h-1zM650 308h1v1h-1zM625 329h1v1h-1zM646 318h2v1h-2zM672 311h2v1h-2zM673 269h1v1h-1zM688 310h1v1h-1zM651 317h1v1h-1zM674 288h2v1h-2zM655 300h2v1h-2zM624 323h2v1h-2zM660 298h1v1h-1zM699 289h1v1h-1zM676 267h2v1h-2zM695 279h2v1h-2zM661 281h2v1h-2zM627 321h2v1h-2zM690 305h2v1h-2zM592 336h1v1h-1zM618 326h1v1h-1zM614 324h1v1h-1zM641 331h1v1h-1zM674 325h1v1h-1zM651 296h1v1h-1zM634 327h1v1h-1zM676 296h1v1h-1zM656 332h2v1h-2zM652 313h2v1h-2zM691 311h1v1h-1zM682 314h1v1h-1zM645 326h2v1h-2zM687 333h2v1h-2zM664 320h1v1h-1zM704 327h2v1h-2zM644 310h2v1h-2zM684 329h2v1h-2zM602 331h1v1h-1zM651 322h2v1h-2zM677 329h1v1h-1zM677 292h1v1h-1zM701 284h1v1h-1zM681 308h2v1h-2zM688 281h2v1h-2zM675 328h2v1h-2zM685 299h2v1h-2zM699 323h1v1h-1zM677 324h1v1h-1zM671 310h2v1h-2zM654 303h2v1h-2zM651 318h1v1h-1zM658 309h1v1h-1zM680 308h1v1h-1zM688 317h2v1h-2zM645 311h1v1h-1zM679 270h1v1h-1zM698 310h2v1h-2zM711 265h1v1h-1zM702 317h2v1h-2zM696 312h2v1h-2zM635 313h1v1h-1zM668 311h2v1h-2zM603 335h1v1h-1zM711 273h1v1h-1zM669 323h1v1h-1zM666 304h1v1h-1zM631 330h2v1h-2zM682 294h2v1h-2zM661 293h2v1h-2zM649 301h1v1h-1zM679 321h2v1h-2zM677 305h1v1h-1zM654 290h2v1h-2zM700 313h2v1h-2zM630 317h1v1h-1zM711 285h1v1h-1zM711 290h2v1h-2zM636 328h1v1h-1zM690 290h2v1h-2zM692 281h1v1h-1zM698 299h1v1h-1zM650 303h1v1h-1zM643 312h1v1h-1zM681 281h2v1h-2zM702 281h1v1h-1zM669 313h1v1h-1zM674 277h1v1h-1zM658 324h2v1h-2zM711 273h1v1h-1zM655 300h1v1h-1zM619 322h2v1h-2zM672 286h1v1h-1zM669 306h2v1h-2zM647 304h2v1h-2zM601 333h2v1h-2zM684 321h1v1h-1zM674 271h2v1h-2zM676 283h1v1h-1zM661 281h2v1h-2zM711 296h1v1h-1zM703 293h1v1h-1zM713 294h2v1h-2zM656 313h1v1h-1zM645 330h1v1h-1zM684 328h1v1h-1zM670 274h1v1h-1zM671 272h2v1h-2zM689 314h1v1h-1zM689 273h2v1h-2zM710 325h1v1h-1zM626 317h2v1h-2zM648 291h1v1h-1zM644 325h1v1h-1zM685 305h2v1h-2zM693 301h1v1h-1zM709 264h1v1h-1zM691 314h2v1h-2zM674 312h2v1h-2zM658 304h1v1h-1zM631 318h2v1h-2zM631 311h2v1h-2zM673 312h2v1h-2zM665 326h1v1h-1zM684 329h1v1h-1zM646 320h2v1h-2zM609 332h2v1h-2zM648 315h1v1h-1zM697 296h2v1h-2zM662 310h1v1h-1zM710 308h1v1h-1zM614 333h2v1h-2zM663 327h1v1h-1zM707 279h1v1h-1zM684 284h2v1h-2zM658 331h1v1h-1zM688 272h2v1h-2zM676 297h2v1h-2zM710 268h2v1h-2zM635 328h1v1h-1zM662 328h1v1h-1zM597 337h2v1h-2zM676 285h2v1h-2zM705 287h2v1h-2zM687 275h2v1h-2z" fill="#FF2236"/>
<path d="M621 360h2v1h-2zM613 347h1v1h-1zM628 366h1v1h-1zM598 349h2v1h-2zM638 375h2v1h-2zM613 365h2v1h-2zM629 358h1v1h-1zM615 362h2v1h-2zM611 344h1v1h-1zM649 347h2v1h-2zM637 351h1v1h-1zM621 361h2v1h-2zM627 361h2v1h-2zM641 349h2v1h-2zM604 353h2v1h-2zM622 344h1v1h-1zM632 367h2v1h-2zM632 357h1v1h-1zM610 355h1v1h-1zM604 364h2v1h-2zM634 372h2v1h-2zM610 359h1v1h-1zM639 376h1v1h-1zM600 347h2v1h-2zM636 348h2v1h-2zM628 343h2v1h-2zM648 369h1v1h-1zM610 358h2v1h-2zM629 376h1v1h-1zM631 353h2v1h-2zM610 351h1v1h-1zM623 363h1v1h-1zM642 345h1v1h-1zM620 372h2v1h-2zM638 343h2v1h-2zM638 356h1v1h-1z" fill="#FF2236"/>
<path d="M652 287h1v1h-1zM628 313h1v1h-1zM641 291h1v1h-1zM628 295h1v1h-1zM651 307h1v1h-1zM620 315h1v1h-1zM651 315h1v1h-1zM638 309h1v1h-1zM627 315h1v1h-1zM645 283h1v1h-1zM625 316h1v1h-1zM621 313h1v1h-1zM649 302h1v1h-1zM638 302h1v1h-1zM643 319h1v1h-1zM624 287h1v1h-1zM629 318h1v1h-1zM652 279h1v1h-1zM647 296h1v1h-1zM629 315h1v1h-1zM628 326h1v1h-1zM646 291h1v1h-1zM654 288h1v1h-1zM620 300h1v1h-1zM641 298h1v1h-1zM622 295h1v1h-1zM645 276h1v1h-1zM651 322h1v1h-1zM625 329h1v1h-1zM627 288h1v1h-1zM651 280h1v1h-1zM645 320h1v1h-1zM648 328h1v1h-1zM657 296h1v1h-1zM638 282h1v1h-1zM639 305h1v1h-1zM634 288h1v1h-1zM649 319h1v1h-1zM655 296h1v1h-1zM643 277h1v1h-1zM644 302h1v1h-1zM635 314h1v1h-1zM640 282h1v1h-1zM626 330h1v1h-1zM637 299h1v1h-1zM637 280h1v1h-1zM618 310h1v1h-1zM639 278h1v1h-1zM626 297h1v1h-1zM657 297h1v1h-1z" fill="#FF7090"/>
<path d="M643 285h1v1h-1zM655 291h1v1h-1zM631 313h1v1h-1zM621 296h1v1h-1zM620 316h1v1h-1zM651 284h1v1h-1zM644 292h1v1h-1zM635 320h1v1h-1zM644 282h1v1h-1zM636 296h1v1h-1zM630 283h1v1h-1zM621 290h1v1h-1zM625 331h1v1h-1zM640 302h1v1h-1zM633 286h1v1h-1zM650 292h1v1h-1zM632 317h1v1h-1zM649 284h1v1h-1zM634 318h1v1h-1zM657 294h1v1h-1zM639 300h1v1h-1zM622 318h1v1h-1zM646 326h1v1h-1zM623 328h1v1h-1zM641 285h1v1h-1zM627 299h1v1h-1zM633 316h1v1h-1zM631 313h1v1h-1zM648 298h1v1h-1zM652 318h1v1h-1z" fill="#FF9020"/>
<path d="M457 547h1v1h-1zM463 501h1v1h-1zM460 513h1v1h-1zM480 573h1v1h-1zM436 506h1v1h-1zM460 512h1v1h-1zM470 563h1v1h-1zM473 574h1v1h-1zM472 557h1v1h-1zM439 529h1v1h-1zM472 563h1v1h-1zM459 572h1v1h-1zM443 484h1v1h-1zM438 504h1v1h-1zM467 505h1v1h-1zM440 481h1v1h-1zM444 488h1v1h-1zM462 575h1v1h-1zM442 540h1v1h-1zM447 508h1v1h-1zM456 502h1v1h-1zM472 570h1v1h-1zM460 551h1v1h-1zM446 510h1v1h-1zM456 499h1v1h-1zM444 534h1v1h-1zM446 552h1v1h-1zM457 493h1v1h-1z" fill="#FF2236"/>
<path d="M436 538h1v1h-1zM441 546h1v1h-1zM439 541h1v1h-1zM441 544h1v1h-1zM433 532h1v1h-1zM432 531h1v1h-1zM427 525h1v1h-1zM420 520h1v1h-1zM430 529h1v1h-1zM422 522h1v1h-1zM430 530h1v1h-1zM423 522h1v1h-1zM435 538h1v1h-1zM433 536h1v1h-1zM440 542h1v1h-1zM425 526h1v1h-1z" fill="#F03050"/>
<path d="M394 513h1v1h-1z M405 523h1v1h-1z M382 490h2v1h-2z" fill="#F03050"/>
<filter id="speck" filterUnits="userSpaceOnUse" x="430" y="160" width="290" height="140" color-interpolation-filters="sRGB"><feTurbulence type="fractalNoise" baseFrequency="0.25" numOctaves="2" seed="21" result="n1"/><feDisplacementMap in="SourceGraphic" in2="n1" scale="6" xChannelSelector="R" yChannelSelector="G" result="d"/><feTurbulence type="fractalNoise" baseFrequency="0.55" numOctaves="1" seed="8" result="n2"/><feColorMatrix in="n2" type="matrix" values="0 0 0 0 1  0 0 0 0 1  0 0 0 0 1  9 0 0 0 -2.9" result="m"/><feComposite in="d" in2="m" operator="in"/></filter>
<g filter="url(#speck)">
<ellipse cx="458" cy="260.5" rx="8.5" ry="8" fill="#FF6E9A" transform="rotate(0 458 260.5)"/>
<ellipse cx="466" cy="276" rx="6" ry="4.5" fill="#FF6E9A" transform="rotate(45 466 276)"/>
<ellipse cx="462" cy="268" rx="4.5" ry="5" fill="#FF6E9A" transform="rotate(0 462 268)"/>
<ellipse cx="452" cy="266" rx="3" ry="6" fill="#FF9020" transform="rotate(0 452 266)"/>
<ellipse cx="470" cy="271" rx="2" ry="5" fill="#FF9020" transform="rotate(0 470 271)"/>
<ellipse cx="510" cy="242" rx="8" ry="3.5" fill="#FF6E9A" transform="rotate(-40 510 242)"/>
<ellipse cx="502" cy="250" rx="6" ry="4" fill="#FF9020" transform="rotate(-40 502 250)"/>
<ellipse cx="570" cy="248" rx="6" ry="4.5" fill="#FF6E9A" transform="rotate(30 570 248)"/>
<ellipse cx="595" cy="241" rx="15" ry="6.5" fill="#FF5C84" transform="rotate(-35 595 241)"/>
<ellipse cx="584" cy="252" rx="5" ry="2.5" fill="#FF9020" transform="rotate(-30 584 252)"/>
<ellipse cx="608" cy="233" rx="4" ry="2" fill="#FF9020" transform="rotate(-30 608 233)"/>
<ellipse cx="628" cy="236" rx="14" ry="3" fill="#FF9020" transform="rotate(-8 628 236)"/>
<ellipse cx="650" cy="232" rx="14" ry="2.5" fill="#FF6E9A" transform="rotate(-10 650 232)"/>
<ellipse cx="640" cy="229" rx="12" ry="2" fill="#FF9020" transform="rotate(-8 640 229)"/>
<ellipse cx="660" cy="234" rx="8" ry="2" fill="#FF6E9A" transform="rotate(-8 660 234)"/>
<ellipse cx="697" cy="246" rx="6" ry="5.5" fill="#FF6E9A" transform="rotate(-30 697 246)"/>
<ellipse cx="702" cy="243" rx="3" ry="3" fill="#FF9020" transform="rotate(0 702 243)"/>
<ellipse cx="534.5" cy="173" rx="2.2" ry="6" fill="#FF9020" transform="rotate(0 534.5 173)"/>
<ellipse cx="561" cy="174" rx="9" ry="3" fill="#FF6E9A" transform="rotate(-18 561 174)"/>
<ellipse cx="568" cy="171" rx="4" ry="2" fill="#FF9020" transform="rotate(-18 568 171)"/>
<ellipse cx="611" cy="182" rx="6" ry="8" fill="#FF80A0" transform="rotate(15 611 182)"/>
<ellipse cx="610" cy="188" rx="6" ry="3" fill="#FF9020" transform="rotate(0 610 188)"/>
<ellipse cx="617" cy="186" rx="3" ry="3" fill="#FF9020" transform="rotate(0 617 186)"/>
<ellipse cx="634" cy="181" rx="9" ry="3.5" fill="#FF9020" transform="rotate(-18 634 181)"/>
<ellipse cx="647" cy="177.5" rx="6" ry="2.5" fill="#FFD818" transform="rotate(-25 647 177.5)"/>
<ellipse cx="545" cy="277" rx="5" ry="1.8" fill="#FF9020" transform="rotate(0 545 277)"/>
<ellipse cx="590" cy="281" rx="10" ry="3" fill="#FF9020" transform="rotate(-12 590 281)"/>
<ellipse cx="583" cy="283" rx="4" ry="1.5" fill="#FFD818" transform="rotate(0 583 283)"/>
<ellipse cx="667" cy="258" rx="10" ry="2.5" fill="#FF9020" transform="rotate(28 667 258)"/>
<ellipse cx="666" cy="275" rx="5.5" ry="9.5" fill="#FF5078" transform="rotate(0 666 275)"/>
</g>
<path d="M576 230h1v1h-1zM619 241h2v1h-2zM600 253h2v1h-2zM600 225h2v1h-2zM601 252h1v1h-1zM591 249h1v1h-1zM601 227h2v1h-2zM627 239h1v1h-1zM644 224h2v1h-2zM621 224h2v1h-2zM617 240h2v1h-2zM658 243h2v1h-2zM639 223h1v1h-1zM595 228h1v1h-1zM568 249h1v1h-1zM644 224h2v1h-2zM626 225h1v1h-1zM649 226h1v1h-1zM577 253h1v1h-1zM600 230h2v1h-2zM590 231h2v1h-2zM650 241h2v1h-2zM591 249h1v1h-1zM593 244h2v1h-2zM583 258h2v1h-2zM610 232h1v1h-1zM622 226h2v1h-2zM563 236h2v1h-2zM638 240h2v1h-2zM653 241h1v1h-1zM589 256h2v1h-2zM660 236h1v1h-1zM601 234h2v1h-2zM606 239h2v1h-2zM610 244h2v1h-2zM646 246h1v1h-1zM653 230h1v1h-1zM592 252h2v1h-2zM615 239h1v1h-1zM629 241h1v1h-1zM659 228h1v1h-1zM603 250h2v1h-2zM653 241h2v1h-2zM568 226h1v1h-1zM589 243h1v1h-1zM623 223h1v1h-1zM641 245h2v1h-2zM608 239h2v1h-2zM604 239h2v1h-2zM568 250h2v1h-2z" fill="#FF9020"/>
<path d="M621 282h1v1h-1zM666 291h1v1h-1zM679 295h1v1h-1zM674 273h1v1h-1zM685 290h1v1h-1zM697 271h1v1h-1zM640 292h1v1h-1zM645 288h2v1h-2zM685 279h2v1h-2zM705 277h2v1h-2zM703 275h2v1h-2zM627 281h1v1h-1zM685 297h1v1h-1zM638 277h2v1h-2zM674 276h2v1h-2zM649 294h1v1h-1zM626 273h1v1h-1zM711 278h1v1h-1zM649 279h1v1h-1zM645 275h2v1h-2zM654 295h1v1h-1zM620 296h1v1h-1zM691 294h1v1h-1zM678 278h1v1h-1zM672 283h1v1h-1zM640 294h2v1h-2zM658 287h1v1h-1zM677 273h1v1h-1zM695 288h1v1h-1zM643 294h2v1h-2zM695 299h2v1h-2zM680 280h2v1h-2zM684 278h1v1h-1zM665 292h1v1h-1zM632 290h2v1h-2zM665 293h1v1h-1zM693 268h1v1h-1zM700 293h2v1h-2zM707 277h2v1h-2zM661 282h2v1h-2zM690 293h1v1h-1zM634 276h1v1h-1zM681 296h2v1h-2zM666 269h2v1h-2zM701 298h1v1h-1zM652 292h2v1h-2zM667 292h1v1h-1zM700 268h2v1h-2zM656 299h1v1h-1zM622 272h1v1h-1zM627 276h1v1h-1zM649 282h1v1h-1zM653 275h1v1h-1zM690 273h1v1h-1zM644 270h2v1h-2zM674 273h1v1h-1zM658 270h1v1h-1zM640 275h1v1h-1zM661 278h1v1h-1zM640 274h1v1h-1zM697 290h1v1h-1zM635 295h2v1h-2zM672 284h2v1h-2zM681 269h1v1h-1zM643 277h2v1h-2zM677 270h2v1h-2zM677 296h1v1h-1zM704 293h1v1h-1zM691 277h2v1h-2zM708 292h1v1h-1z" fill="#FF6E9A"/>
<path d="M465 284h1v1h-1zM462 264h1v1h-1zM459 282h1v1h-1zM461 264h1v1h-1zM467 272h1v1h-1zM464 269h1v1h-1zM453 279h1v1h-1zM458 284h1v1h-1zM451 260h1v1h-1zM457 259h1v1h-1zM472 268h1v1h-1zM469 275h1v1h-1zM464 271h1v1h-1zM469 268h1v1h-1zM455 284h1v1h-1zM463 272h1v1h-1zM452 254h1v1h-1zM460 276h1v1h-1zM465 254h1v1h-1zM449 257h1v1h-1z" fill="#FF9020"/>
<path d="M181 522h2v1h-2zM214 519h2v1h-2zM176 525h1v1h-1zM221 523h2v1h-2zM178 517h1v1h-1zM182 519h2v1h-2zM182 517h2v1h-2zM208 521h2v1h-2zM174 521h2v1h-2zM211 515h2v1h-2zM209 522h2v1h-2zM184 517h1v1h-1zM193 517h1v1h-1zM198 522h2v1h-2zM174 523h2v1h-2zM178 520h1v1h-1zM192 516h1v1h-1zM205 519h2v1h-2zM204 523h1v1h-1zM217 515h2v1h-2zM197 516h2v1h-2zM208 520h2v1h-2z" fill="#F04060"/>
<path d="M184 552h1v1h-1zM184 553h1v1h-1zM190 555h1v1h-1zM185 552h1v1h-1zM179 556h1v1h-1zM190 545h1v1h-1zM189 549h1v1h-1zM194 555h1v1h-1zM186 545h1v1h-1zM189 553h2v1h-2zM197 555h1v1h-1zM189 552h1v1h-1zM175 550h2v1h-2zM195 555h2v1h-2zM194 549h2v1h-2zM182 546h1v1h-1zM179 553h1v1h-1zM191 552h1v1h-1zM198 551h1v1h-1zM187 550h1v1h-1zM194 547h1v1h-1zM196 550h2v1h-2zM174 547h1v1h-1zM183 547h1v1h-1zM193 556h1v1h-1zM177 550h2v1h-2zM181 546h2v1h-2zM204 550h1v1h-1zM175 548h1v1h-1zM175 545h1v1h-1zM182 547h1v1h-1zM188 554h2v1h-2zM187 551h1v1h-1zM184 550h1v1h-1z" fill="#F04060"/>
<path d="M181 549 h6 v1 h4 v2 h3 v3 h-8 v1 h-4 v-2 h-3 v-3 h2z" fill="#F04060"/>
<path d="M229 565 l3 0 l6 8 l-4 1 z" fill="#F04060"/>
<path d="M311 503h1v1h-1zM310 501h1v1h-1zM313 509h1v1h-1zM304 499h1v1h-1zM317 501h1v1h-1zM312 506h1v1h-1z" fill="#F04060"/>
<path d="M384 488 h3 v2 h-3z M352 492 h1 v2 h-1z M330 552 h1 v1 h-1z M296 560 h1 v2 h-1z M484.6 240 h2 v2 h-2z M467 295 h1 v1 h-1z" fill="#F05038"/>
<path d="M110 52h1v15h-1zM109 67h1v54h-1zM108 121h1v53h-1zM107 174h1v53h-1zM106 227h1v53h-1zM105 280h1v53h-1zM104 333h1v53h-1zM103 386h1v53h-1zM102 439h1v53h-1zM101 492h1v54h-1zM100 546h1v32h-1zM234 52h1v42h-1zM233 94h1v103h-1zM232 197h1v103h-1zM231 300h1v102h-1zM230 402h1v103h-1zM229 505h1v73h-1zM359 52h1v335h-1zM358 387h1v191h-1zM483 52h1v46h-1zM484 98h1v114h-1zM485 212h1v114h-1zM486 326h1v115h-1zM487 441h1v114h-1zM488 555h1v23h-1zM608 52h1v18h-1zM609 70h1v58h-1zM610 128h1v59h-1zM611 187h1v58h-1zM612 245h1v58h-1zM613 303h1v59h-1zM614 362h1v58h-1zM615 420h1v58h-1zM616 478h1v59h-1zM617 537h1v41h-1zM96 45h4v1h-4zM100 46h60v1h-60zM160 47h84v1h-84zM244 48h267v1h-267zM511 47h84v1h-84zM595 46h60v1h-60zM655 45h49v1h-49zM704 44h4v1h-4zM49 189h33v1h-33zM82 190h53v1h-53zM135 191h69v1h-69zM204 192h136v1h-136zM340 193h75v1h-75zM415 192h136v1h-136zM551 191h69v1h-69zM620 190h53v1h-53zM673 189h41v1h-41zM49 333h6v1h-6zM55 334h51v1h-51zM106 335h64v1h-64zM170 336h96v1h-96zM266 337h223v1h-223zM489 336h96v1h-96zM585 335h64v1h-64zM649 334h51v1h-51zM700 333h14v1h-14zM49 478h33v1h-33zM82 479h57v1h-57zM139 480h75v1h-75zM214 481h327v1h-327zM541 480h75v1h-75zM616 479h57v1h-57zM673 478h41v1h-41z" fill="#fff"/>
</g>
<rect x="48" y="580" width="667" height="21" fill="#000" shape-rendering="crispEdges"/>
<rect x="49" y="581" width="665" height="19" fill="url(#cb)" shape-rendering="crispEdges"/>
<g font-family="Liberation Sans, sans-serif" fill="#303030" opacity="0.99" style="white-space:pre">
<text x="48" y="13.7" font-size="13.7" text-anchor="start" textLength="227.6" lengthAdjust="spacingAndGlyphs">npp.2016123.0502.D.L4<tspan dy="-1.2">_</tspan><tspan dy="1.2">D</tspan>AY.viirsn.</text>
<text x="275.6" y="13.7" font-size="13.7" text-anchor="start" textLength="79.8" lengthAdjust="spacingAndGlyphs">BonnetCarre</text>
<text x="355.4" y="13.7" font-size="13.7" text-anchor="start" textLength="124.4" lengthAdjust="spacingAndGlyphs">2016.v06.750m.hdf</text>
<text x="494" y="13.7" font-size="13.7" text-anchor="start" textLength="220.5" lengthAdjust="spacingAndGlyphs" xml:space="preserve">Mon May  2 2016 Daily Composite</text>
<text x="302.0" y="28.0" font-size="13.7" text-anchor="start" textLength="22" lengthAdjust="spacingAndGlyphs">Sea</text>
<text x="328.3" y="28.0" font-size="13.7" text-anchor="start" textLength="45.6" lengthAdjust="spacingAndGlyphs">Surface</text>
<text x="378.7" y="28.0" font-size="13.7" text-anchor="start" textLength="81.0" lengthAdjust="spacingAndGlyphs">Temperature</text>
<text x="110.6" y="41.8" font-size="12.6" text-anchor="middle" textLength="31" lengthAdjust="spacingAndGlyphs">91°W</text>
<text x="234.8" y="41.8" font-size="12.6" text-anchor="middle" textLength="31" lengthAdjust="spacingAndGlyphs">90°W</text>
<text x="359.7" y="41.8" font-size="12.6" text-anchor="middle" textLength="31" lengthAdjust="spacingAndGlyphs">89°W</text>
<text x="484.2" y="41.8" font-size="12.6" text-anchor="middle" textLength="31" lengthAdjust="spacingAndGlyphs">88°W</text>
<text x="609" y="41.8" font-size="12.6" text-anchor="middle" textLength="31" lengthAdjust="spacingAndGlyphs">87°W</text>
<text x="48" y="41.8" font-size="12.6" text-anchor="middle" textLength="27.3" lengthAdjust="spacingAndGlyphs">31°N</text>
<text x="45.8" y="50.5" font-size="12.6" text-anchor="end" textLength="27.3" lengthAdjust="spacingAndGlyphs">31°N</text>
<text x="46.6" y="57.2" font-size="12.6" text-anchor="end" textLength="31" lengthAdjust="spacingAndGlyphs">88°W</text>
<text x="46.6" y="58.0" font-size="12.6" text-anchor="end" textLength="31" lengthAdjust="spacingAndGlyphs">87°W</text>
<text x="716.9" y="50.5" font-size="12.6" text-anchor="start" textLength="27.3" lengthAdjust="spacingAndGlyphs">31°N</text>
<text x="716.9" y="57.0" font-size="12.6" text-anchor="start" textLength="31" lengthAdjust="spacingAndGlyphs">91°W</text>
<text x="716.9" y="58.0" font-size="12.6" text-anchor="start" textLength="31" lengthAdjust="spacingAndGlyphs">90°W</text>
<text x="716.9" y="58.8" font-size="12.6" text-anchor="start" textLength="31" lengthAdjust="spacingAndGlyphs">89°W</text>
<text x="45.6" y="194.6" font-size="12.6" text-anchor="end" textLength="27.3" lengthAdjust="spacingAndGlyphs">30°N</text>
<text x="45.6" y="338.8" font-size="12.6" text-anchor="end" textLength="27.3" lengthAdjust="spacingAndGlyphs">29°N</text>
<text x="45.6" y="482.8" font-size="12.6" text-anchor="end" textLength="27.3" lengthAdjust="spacingAndGlyphs">28°N</text>
<text x="716.9" y="195.0" font-size="12.6" text-anchor="start" textLength="27.3" lengthAdjust="spacingAndGlyphs">30°N</text>
<text x="716.9" y="339.5" font-size="12.6" text-anchor="start" textLength="27.3" lengthAdjust="spacingAndGlyphs">29°N</text>
<text x="716.9" y="483.2" font-size="12.6" text-anchor="start" textLength="27.3" lengthAdjust="spacingAndGlyphs">28°N</text>
<text x="46.6" y="581.6" font-size="12.6" text-anchor="end" textLength="31" lengthAdjust="spacingAndGlyphs">91°W</text>
<text x="46.6" y="582.9" font-size="12.6" text-anchor="end" textLength="31" lengthAdjust="spacingAndGlyphs">90°W</text>
<text x="46.6" y="583.9" font-size="12.6" text-anchor="end" textLength="31" lengthAdjust="spacingAndGlyphs">89°W</text>
<text x="716.9" y="582.3" font-size="12.6" text-anchor="start" textLength="31" lengthAdjust="spacingAndGlyphs">88°W</text>
<text x="716.9" y="583.0" font-size="12.6" text-anchor="start" textLength="31" lengthAdjust="spacingAndGlyphs">87°W</text>
<text x="48.8" y="613.0" font-size="12.6" text-anchor="middle" textLength="6.68" lengthAdjust="spacingAndGlyphs">2</text>
<text x="48.8" y="625.0" font-size="12.6" text-anchor="middle" textLength="20.73" lengthAdjust="spacingAndGlyphs">400</text>
<text x="181.5" y="613.0" font-size="12.6" text-anchor="middle" textLength="6.68" lengthAdjust="spacingAndGlyphs">8</text>
<text x="181.5" y="625.0" font-size="12.6" text-anchor="middle" textLength="38.0" lengthAdjust="spacingAndGlyphs">1596.5</text>
<text x="314.2" y="613.0" font-size="12.6" text-anchor="middle" textLength="13.82" lengthAdjust="spacingAndGlyphs">14</text>
<text x="314.2" y="625.0" font-size="12.6" text-anchor="middle" textLength="27.64" lengthAdjust="spacingAndGlyphs">2793</text>
<text x="448" y="613.0" font-size="12.6" text-anchor="middle" textLength="13.82" lengthAdjust="spacingAndGlyphs">20</text>
<text x="448" y="625.0" font-size="12.6" text-anchor="middle" textLength="27.64" lengthAdjust="spacingAndGlyphs">4007</text>
<text x="581" y="613.0" font-size="12.6" text-anchor="middle" textLength="13.82" lengthAdjust="spacingAndGlyphs">26</text>
<text x="581" y="625.0" font-size="12.6" text-anchor="middle" textLength="38.0" lengthAdjust="spacingAndGlyphs">5203.5</text>
<text x="714.3" y="613.0" font-size="12.6" text-anchor="middle" textLength="13.82" lengthAdjust="spacingAndGlyphs">32</text>
<text x="714.0" y="625.0" font-size="12.6" text-anchor="middle" textLength="27.64" lengthAdjust="spacingAndGlyphs">6400</text>
<text x="381.5" y="613.0" font-size="12.6" text-anchor="middle" textLength="52.72" lengthAdjust="spacingAndGlyphs">degree<tspan dy="-1.2">_</tspan><tspan dy="1.2">C</tspan></text>
<text x="381.4" y="625.0" font-size="12.6" text-anchor="middle" textLength="59.89" lengthAdjust="spacingAndGlyphs">Fahrenheit</text>
<text x="48.8" y="639.3" font-size="12.6" text-anchor="start" textLength="60.8" lengthAdjust="spacingAndGlyphs">sst<tspan dy="-1.2">_</tspan><tspan dy="1.2">n</tspan>l<tspan dy="-1.2">_</tspan><tspan dy="1.2">n</tspan>avo</text>
<text x="48.8" y="654.2" font-size="12.6" text-anchor="start" textLength="169.2" lengthAdjust="spacingAndGlyphs">BonnetCarre2016 (VIIRSN-npp)</text>
<text x="48.8" y="669.2" font-size="12.6" text-anchor="start" textLength="50.2" lengthAdjust="spacingAndGlyphs">Version 6</text>
<text x="381.8" y="639.3" font-size="12.6" text-anchor="start" textLength="149.5" lengthAdjust="spacingAndGlyphs">Code 7330/Ocean Sciences</text>
<text x="381.8" y="654.2" font-size="12.6" text-anchor="start" textLength="145.2" lengthAdjust="spacingAndGlyphs">Naval Research Laboratory</text>
<text x="381.8" y="669.2" font-size="12.6" text-anchor="start" textLength="140.4" lengthAdjust="spacingAndGlyphs">Stennis Space Center, MS</text>
</g>
<g>
<circle cx="687" cy="647" r="24.7" fill="#1414E6"/>
<circle cx="687" cy="647" r="20.2" fill="#FFFF00"/>
<path id="ringT" d="M666.1 647 A20.9 20.9 0 0 1 707.9 647" fill="none"/>
<path id="ringB" d="M663.0 647 A24.0 24.0 0 0 0 711.0 647" fill="none"/>
<text font-family="Liberation Sans, sans-serif" font-weight="bold" font-size="4.3" fill="#F4F430" text-anchor="middle"><textPath href="#ringT" startOffset="50%" textLength="61" lengthAdjust="spacingAndGlyphs">NAVAL RESEARCH LABORATORY</textPath></text>
<text font-family="Liberation Sans, sans-serif" font-weight="bold" font-size="4.3" fill="#F4F430" text-anchor="middle"><textPath href="#ringB" startOffset="50%" textLength="64" lengthAdjust="spacingAndGlyphs">STENNIS SPACE CENTER, MS</textPath></text>
<circle cx="664.6" cy="649.6" r="0.7" fill="#F4F430"/><circle cx="709.4" cy="649.6" r="0.7" fill="#F4F430"/>
<path d="M675 632.5 Q687 629.5 699.5 632.5 L699 647 Q700.5 655 697 660 Q693 664.5 687 666 Q681 664.5 677 660 Q673.5 655 675 647 Z" fill="#FFFF00" stroke="#6868B0" stroke-width="0.9"/>
<path d="M676.5 632.5 Q682 631 687 631.3 L687 646.5 L676.5 646.5 Z" fill="#1414E6"/>
<path d="M687 646.5 L698.8 646.5 Q700 655 696.5 659.5 Q692.5 664 687 665.5 Z" fill="#1414E6"/>
<path d="M679 636 l2 2 l1.5-1 l1.5 1 l2-2 l-0.5 5 l-2.5 2.5 l-2.5-2.5 z" fill="#8888DD"/>
<circle cx="680.5" cy="654" r="4.3" fill="none" stroke="#1414E6" stroke-width="1"/>
<path d="M678.5 654 l1.2-1.8 l1 3 l1-3 l1.2 1.8" fill="none" stroke="#1414E6" stroke-width="0.7"/>
<path d="M692 636 v7 M690.5 637.5 v3 M693.8 637 v4 M689.5 643.5 h5.5" fill="none" stroke="#1414E6" stroke-width="1"/>
<path d="M690 662 L693 652 L694.5 650 L696 653 L695 659 Z" fill="#E8E870" opacity="0.85"/>
<circle cx="693.8" cy="651" r="1.3" fill="#F0F080"/>
</g>
</svg>
</body></html>
